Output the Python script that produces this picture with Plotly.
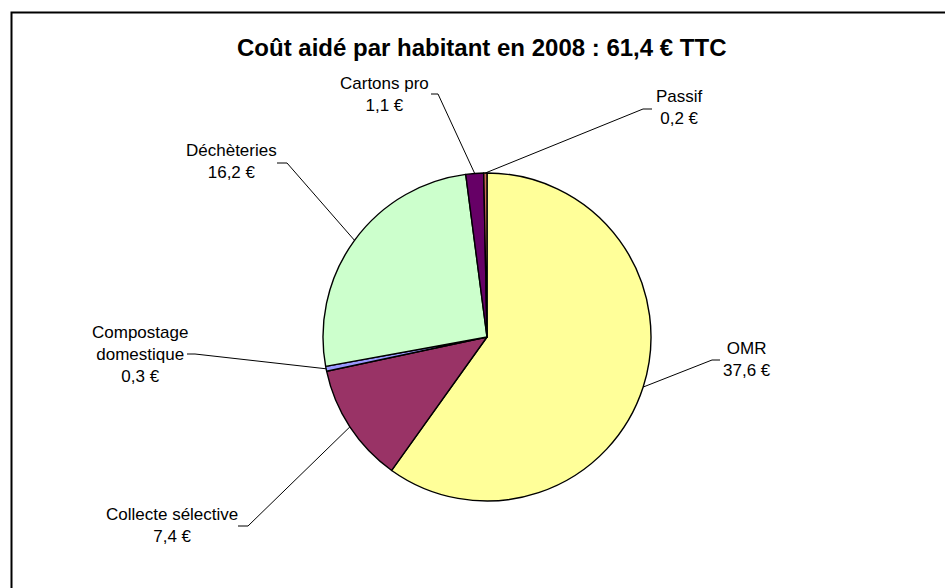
import math
import plotly.graph_objects as go

# ---- data ----
categories = ["OMR", "Collecte sélective", "Compostage domestique", "Déchèteries", "Cartons pro", "Passif"]
label_texts = ["OMR", "Collecte sélective", "Compostage<br>domestique", "Déchèteries", "Cartons pro", "Passif"]
values = [37.6, 7.4, 0.3, 16.2, 1.1, 0.2]
colors = ["#FFFF99", "#993366", "#9999FF", "#CCFFCC", "#660066", "#C86A55"]
title_text = "Coût aidé par habitant en 2008 : 61,4 € TTC"

# ---- layout geometry (pixels) ----
W, H = 945, 588
cx, cy, R = 487, 337, 164

# label block centres and leader elbow / end points (pixels)
label_pos = [(747, 359), (172, 525), (140, 355), (231, 162), (384, 94), (679, 108)]
leader_hz = [((720, 360), (712, 360)),
             ((238, 526), (248, 526)),
             ((187, 354), (195, 354)),
             ((277, 163), (287, 163)),
             ((431, 94), (438, 94)),
             ((652, 109), (643, 109))]


def px(x):
    return x / W


def py(y):
    return 1 - y / H


fig = go.Figure()
fig.add_trace(go.Pie(
    labels=categories,
    values=values,
    sort=False,
    direction="clockwise",
    rotation=0,
    textinfo="none",
    hoverinfo="label+value",
    marker=dict(colors=colors, line=dict(color="#000000", width=1.4)),
    domain=dict(x=[px(cx - R), px(cx + R)], y=[py(cy + R), py(cy - R)]),
    showlegend=False,
))

total = sum(values)
cum = 0.0
shapes = []
annotations = []
for i, v in enumerate(values):
    mid = (cum + v / 2) / total * 2 * math.pi
    cum += v
    ex = cx + R * math.sin(mid)
    ey = cy - R * math.cos(mid)
    (hx0, hy0), (hx1, hy1) = leader_hz[i]
    path = f"M {px(hx0)},{py(hy0)} L {px(hx1)},{py(hy1)} L {px(ex)},{py(ey)}"
    shapes.append(dict(type="path", xref="paper", yref="paper", path=path,
                       line=dict(color="#000000", width=1)))
    txt = f"{label_texts[i]}<br>{str(v).replace('.', ',')} €"
    lx, ly = label_pos[i]
    annotations.append(dict(x=px(lx), y=py(ly), xref="paper", yref="paper",
                            text=txt, showarrow=False, xanchor="center", yanchor="middle",
                            align="center",
                            font=dict(family="Arial, Liberation Sans, sans-serif", size=17, color="#000000")))

# chart border
shapes.append(dict(type="rect", xref="paper", yref="paper",
                   x0=px(11.5), y0=py(600), x1=px(960), y1=py(12.5),
                   line=dict(color="#000000", width=2), fillcolor="rgba(0,0,0,0)"))

annotations.append(dict(x=px(481), y=py(47), xref="paper", yref="paper",
                        text=f"<b>{title_text}</b>", showarrow=False,
                        xanchor="center", yanchor="middle",
                        font=dict(family="Arial, Liberation Sans, sans-serif", size=24, color="#000000")))

fig.update_layout(
    width=W, height=H,
    margin=dict(l=0, r=0, t=0, b=0),
    paper_bgcolor="#FFFFFF",
    plot_bgcolor="#FFFFFF",
    shapes=shapes,
    annotations=annotations,
)

fig.write_html("out.html",
               config={"displayModeBar": False},
               post_script="document.body.style.margin='0';document.body.style.overflow='hidden';")
